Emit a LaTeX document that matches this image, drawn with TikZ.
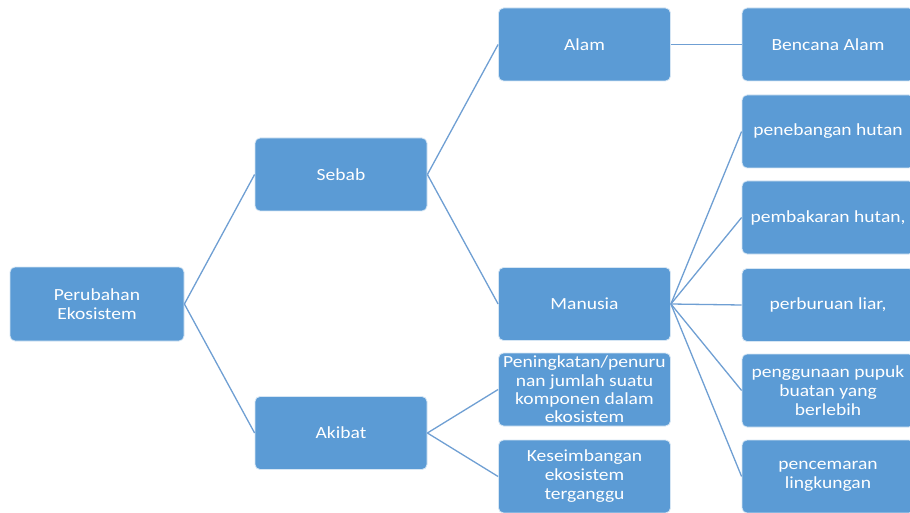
\documentclass[tikz,border=0pt]{standalone}
\usepackage{fontspec}
\setmainfont[FakeStretch=1.15]{Carlito}
\definecolor{boxblue}{HTML}{5B9BD5}
\definecolor{lineblue}{HTML}{6F9FD3}
\tikzset{
  box/.style={rectangle, rounded corners=5pt, fill=boxblue, draw=white!75!boxblue, line width=0.8pt,
    minimum width=172pt, minimum height=73pt, text=white, align=center, inner xsep=2pt, inner ysep=0pt,
    font=\fontsize{17}{19}\selectfont},
  conn/.style={draw=lineblue, line width=1.3pt}
}
\begin{document}
\begin{tikzpicture}[x=1pt,y=-1pt]
\useasboundingbox (0,0) rectangle (910,513);
\clip (0,0) rectangle (910,513);
\fill[white] (0,0) rectangle (910,513);
\node[box, minimum width=174pt, minimum height=74pt] (pe) at (97,304) {Perubahan\\Ekosistem};
\node[box] (sebab) at (341,174.5) {Sebab};
\node[box] (akibat) at (341,433) {Akibat};
\node[box] (alam) at (584.5,44.5) {Alam};
\node[box] (manusia) at (584.5,304) {Manusia};
\node[box, font=\fontsize{17}{18.3}\selectfont] (pening) at (584.5,389.5) {Peningkatan/penuru\\nan jumlah suatu\\komponen dalam\\ekosistem};
\node[box] (kes) at (584.5,476.5) {Keseimbangan\\ekosistem\\terganggu};
\node[box] (bencana) at (828,44.5) {Bencana Alam};
\node[box] (tebang) at (828,131.5) {penebangan hutan};
\node[box] (bakar) at (828,217.5) {pembakaran hutan,};
\node[box] (buru) at (828,305) {perburuan liar,};
\node[box] (pupuk) at (828,390.5) {penggunaan pupuk\\buatan yang\\berlebih};
\node[box] (cemar) at (828,476.5) {pencemaran\\lingkungan};
\draw[conn] (pe.east) -- (sebab.west);
\draw[conn] (pe.east) -- (akibat.west);
\draw[conn] (sebab.east) -- (alam.west);
\draw[conn] (sebab.east) -- (manusia.west);
\draw[conn] (alam.east) -- (bencana.west);
\draw[conn] (akibat.east) -- (pening.west);
\draw[conn] (akibat.east) -- (kes.west);
\foreach \t in {tebang,bakar,buru,pupuk,cemar}
  \draw[conn] (manusia.east) -- (\t.west);
\end{tikzpicture}
\end{document}
